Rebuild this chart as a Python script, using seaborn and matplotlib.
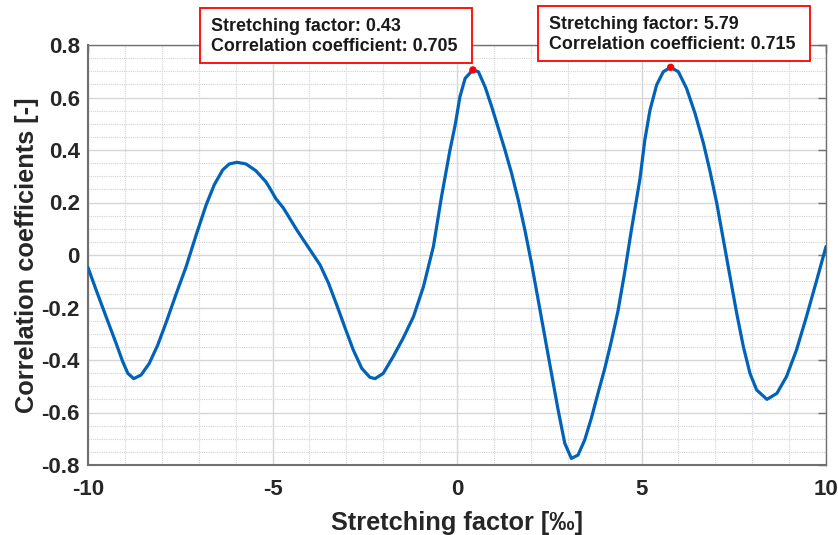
import numpy as np
import pandas as pd
import seaborn as sns
import matplotlib
matplotlib.use("Agg")
import matplotlib.pyplot as plt
from matplotlib.patches import Rectangle
from matplotlib.ticker import MultipleLocator

# Data
stretch = [-10.0, -9.78, -9.51, -9.24, -9.06, -8.92, -8.76, -8.56, -8.34, -8.11,
           -7.89, -7.62, -7.34, -7.07, -6.80, -6.58, -6.35, -6.17, -5.96, -5.72,
           -5.45, -5.18, -5.07, -4.91, -4.70, -4.34, -3.98, -3.71, -3.48, -3.26,
           -3.03, -2.81, -2.58, -2.36, -2.22, -2.00, -1.73, -1.46, -1.18, -0.91,
           -0.64, -0.42, -0.19, -0.05, 0.08, 0.22, 0.43, 0.58, 0.76, 0.94,
           1.12, 1.30, 1.48, 1.66, 1.84, 2.02, 2.20, 2.38, 2.56, 2.74,
           2.92, 3.10, 3.28, 3.46, 3.64, 3.82, 4.00, 4.18, 4.36, 4.54,
           4.72, 4.96, 5.09, 5.23, 5.41, 5.59, 5.79, 6.00, 6.22, 6.45,
           6.68, 6.86, 7.04, 7.22, 7.40, 7.58, 7.76, 7.94, 8.12, 8.40,
           8.67, 8.93, 9.20, 9.47, 9.75, 10.0]
corr = [-0.048, -0.133, -0.235, -0.336, -0.406, -0.451, -0.471, -0.457, -0.413, -0.343,
        -0.260, -0.152, -0.044, 0.076, 0.190, 0.267, 0.324, 0.347, 0.353, 0.347,
        0.321, 0.279, 0.254, 0.215, 0.178, 0.095, 0.019, -0.038, -0.108, -0.190,
        -0.279, -0.362, -0.432, -0.466, -0.471, -0.451, -0.387, -0.317, -0.235, -0.121,
        0.032, 0.222, 0.400, 0.495, 0.603, 0.673, 0.705, 0.698, 0.641, 0.565,
        0.483, 0.400, 0.311, 0.210, 0.095, -0.032, -0.171, -0.311, -0.451, -0.590,
        -0.717, -0.775, -0.762, -0.705, -0.622, -0.527, -0.435, -0.330, -0.215, -0.070,
        0.090, 0.292, 0.438, 0.552, 0.648, 0.698, 0.715, 0.698, 0.635, 0.540,
        0.425, 0.317, 0.197, 0.057, -0.083, -0.222, -0.349, -0.451, -0.514, -0.550,
        -0.527, -0.463, -0.362, -0.235, -0.095, 0.032]

peak_x = [0.43, 5.79]
peak_y = [0.705, 0.715]
peak_labels = ["Stretching factor: 0.43\nCorrelation coefficient: 0.705",
               "Stretching factor: 5.79\nCorrelation coefficient: 0.715"]

xticks = [-10, -5, 0, 5, 10]
yticks = [-0.8, -0.6, -0.4, -0.2, 0, 0.2, 0.4, 0.6, 0.8]
ytick_labels = ["-0.8", "-0.6", "-0.4", "-0.2", "0", "0.2", "0.4", "0.6", "0.8"]
xtick_labels = ["-10", "-5", "0", "5", "10"]

df = pd.DataFrame({"x": stretch, "y": corr})
pk = pd.DataFrame({"x": peak_x, "y": peak_y})

sns.set_style("white")
plt.rcParams["font.family"] = ["Liberation Sans", "DejaVu Sans"]

W, H = 838, 535
fig = plt.figure(figsize=(W / 100, H / 100), dpi=100)
ax = fig.add_axes([88 / W, 1 - 465 / H, (826 - 88) / W, (465 - 45) / H])

sns.lineplot(data=df, x="x", y="y", ax=ax, color="#0062B8", linewidth=2.3, zorder=3)
sns.scatterplot(data=pk, x="x", y="y", ax=ax, color="#FF0000", s=28, edgecolor="none", zorder=4)

ax.set_xlim(-10, 10)
ax.set_ylim(-0.8, 0.8)
ax.set_xticks(xticks)
ax.set_xticklabels(xtick_labels)
ax.set_yticks(yticks)
ax.set_yticklabels(ytick_labels)
ax.xaxis.set_minor_locator(MultipleLocator(1))
ax.yaxis.set_minor_locator(MultipleLocator(0.05))

ax.grid(which="major", color="#d6d6d6", linewidth=1.0, linestyle="-")
ax.grid(which="minor", color="#d2d2d2", linewidth=0.8, linestyle=(0, (1, 1)))
ax.set_axisbelow(True)

for s in ax.spines.values():
    s.set_visible(True)
    s.set_color("#707070")
    s.set_linewidth(1.0)
ax.spines["left"].set_linewidth(1.5)
ax.spines["bottom"].set_linewidth(1.5)

ax.tick_params(which="major", direction="in", length=6, width=1, color="#707070",
               top=True, right=True, labelsize=16, labelcolor="#262626")
ax.tick_params(axis="x", which="major", pad=10)
ax.tick_params(axis="y", which="major", pad=6)
ax.tick_params(which="minor", length=0)
for lab in ax.get_xticklabels() + ax.get_yticklabels():
    lab.set_fontweight("bold")

ax.set_xlabel("Stretching factor [‰]", fontsize=18.3, fontweight="bold", color="#262626", labelpad=8)
ax.set_ylabel("Correlation coefficients [-]", fontsize=18.3, fontweight="bold", color="#262626", labelpad=2)

# annotation boxes
boxes = [(200, 8, 472, 63), (538, 6, 810, 61)]
for (x0, y0, x1, y1), txt in zip(boxes, peak_labels):
    rect = Rectangle((x0 / W, 1 - y1 / H), (x1 - x0) / W, (y1 - y0) / H,
                     transform=fig.transFigure, facecolor="white", edgecolor="#FF0000",
                     linewidth=1.3, zorder=10)
    fig.add_artist(rect)
    fig.text((x0 + 11) / W, 1 - ((y0 + y1) / 2 + 1) / H, txt, ha="left", va="center",
             fontsize=12.9, fontweight="bold", color="#1a1a1a", linespacing=1.18, zorder=11)

fig.savefig("out.png", dpi=100)
